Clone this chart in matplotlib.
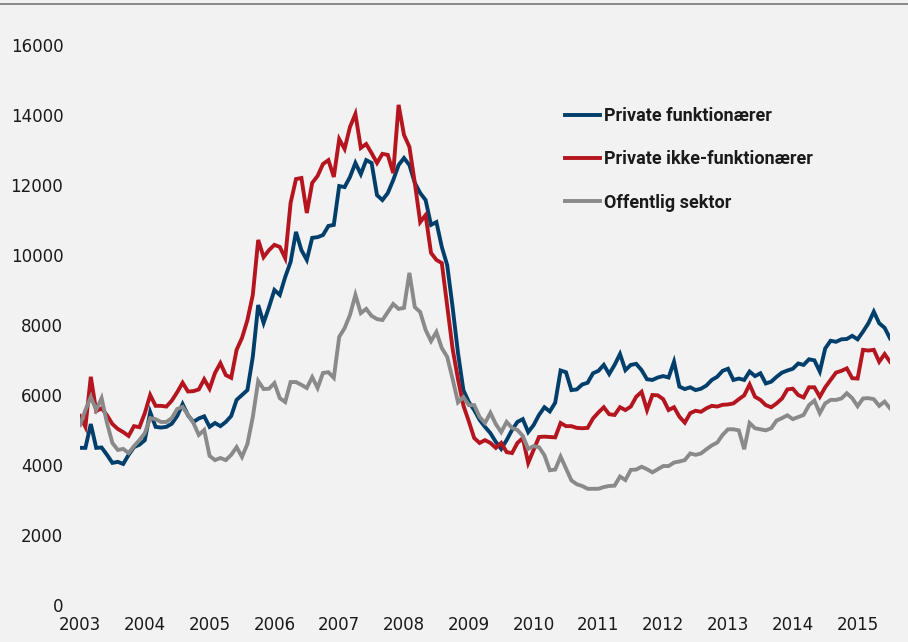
import numpy as np
import matplotlib
matplotlib.use('Agg')
import matplotlib.pyplot as plt
from matplotlib.lines import Line2D

# monthly values, Jan 2003 - Jul 2015
years = list(range(2003, 2016))
yTicks = list(range(0, 16001, 2000))
seriesNames = ['Private funktionærer', 'Private ikke-funktionærer', 'Offentlig sektor']

privateFunk = [
    4490, 4490, 5170, 4490, 4500, 4290, 4060, 4090, 4030, 4290, 4510, 4580,
    4710, 5510, 5090, 5070, 5090, 5180, 5400, 5740, 5420, 5230, 5330, 5390,
    5090, 5200, 5110, 5230, 5400, 5860, 6000, 6140, 7090, 8570, 8060, 8510,
    9000, 8860, 9370, 9800, 10660, 10140, 9860, 10490, 10510, 10570, 10830, 10860,
    11970, 11940, 12230, 12630, 12310, 12710, 12630, 11710, 11570, 11770, 12140, 12570,
    12770, 12570, 12060, 11770, 11570, 10860, 10940, 10230, 9710, 8510, 7200, 6140,
    5800, 5570, 5290, 5090, 4910, 4660, 4460, 4710, 5000, 5230, 5310, 4940,
    5140, 5430, 5650, 5530, 5780, 6700, 6650, 6140, 6160, 6300, 6350, 6620,
    6690, 6860, 6600, 6860, 7170, 6710, 6860, 6890, 6710, 6450, 6430, 6500,
    6540, 6500, 6950, 6240, 6170, 6220, 6140, 6180, 6270, 6430, 6520, 6690,
    6750, 6430, 6470, 6430, 6670, 6540, 6620, 6330, 6380, 6520, 6640, 6700,
    6750, 6900, 6860, 7020, 6990, 6670, 7330, 7550, 7520, 7590, 7600, 7690,
    7590, 7810, 8050, 8380, 8050, 7920, 7620,
]

privateIkke = [
    5400, 5090, 6520, 5540, 5620, 5420, 5170, 5030, 4940, 4830, 5110, 5080,
    5480, 6000, 5690, 5690, 5670, 5840, 6080, 6350, 6100, 6110, 6160, 6450,
    6180, 6630, 6910, 6570, 6490, 7290, 7630, 8140, 8860, 10430, 9940, 10140,
    10290, 10230, 9910, 11490, 12170, 12200, 11200, 12060, 12260, 12600, 12710, 12230,
    13310, 13030, 13660, 14030, 13060, 13170, 12910, 12630, 12890, 12860, 12340, 14290,
    13430, 13090, 12060, 10940, 11140, 10060, 9860, 9770, 8550, 7320, 6450, 5700,
    5250, 4770, 4630, 4710, 4630, 4490, 4630, 4370, 4340, 4630, 4770, 4060,
    4430, 4800, 4810, 4800, 4790, 5200, 5110, 5110, 5060, 5050, 5060, 5330,
    5500, 5650, 5450, 5430, 5650, 5570, 5670, 5950, 6090, 5570, 6000, 5990,
    5880, 5570, 5650, 5380, 5210, 5480, 5550, 5520, 5620, 5690, 5670, 5720,
    5730, 5760, 5880, 5990, 6300, 5950, 5860, 5710, 5650, 5760, 5900, 6160,
    6180, 6000, 5930, 6220, 6220, 5950, 6220, 6430, 6640, 6690, 6760, 6480,
    6470, 7290, 7270, 7290, 6950, 7170, 6950,
]

offentlig = [
    5140, 5570, 5940, 5570, 5910, 5200, 4630, 4430, 4460, 4340, 4540, 4710,
    4910, 5340, 5310, 5230, 5230, 5340, 5600, 5660, 5430, 5200, 4860, 5000,
    4260, 4140, 4200, 4140, 4290, 4510, 4230, 4600, 5370, 6400, 6170, 6180,
    6340, 5910, 5800, 6370, 6370, 6290, 6200, 6510, 6200, 6630, 6650, 6490,
    7660, 7910, 8290, 8860, 8340, 8460, 8260, 8170, 8140, 8370, 8600, 8460,
    8490, 9490, 8510, 8370, 7860, 7540, 7800, 7340, 7090, 6460, 5790, 5940,
    5710, 5710, 5370, 5200, 5490, 5170, 4940, 5230, 5060, 5000, 4830, 4460,
    4540, 4510, 4280, 3850, 3870, 4240, 3900, 3560, 3450, 3400, 3320, 3320,
    3320, 3370, 3400, 3410, 3670, 3570, 3860, 3870, 3950, 3880, 3790, 3880,
    3970, 3970, 4070, 4100, 4140, 4330, 4290, 4330, 4450, 4560, 4640, 4860,
    5020, 5020, 4990, 4450, 5200, 5050, 5020, 4990, 5050, 5270, 5340, 5420,
    5310, 5370, 5430, 5710, 5840, 5480, 5760, 5860, 5860, 5900, 6050, 5910,
    5680, 5900, 5910, 5880, 5690, 5810, 5620,
]

colors = ['#003f6b', '#b5151f', '#8a8a8a']


def plotChart():
    months = np.arange(len(privateFunk))
    x = 2003 + months / 12

    fig = plt.figure(figsize=(9.08, 6.42), dpi=100, facecolor='#f2f2f2')
    ax = fig.add_axes([80 / 908, 37 / 642, 810 / 908, 560 / 642])
    ax.set_facecolor('#f2f2f2')

    for vals, name, col in zip([privateFunk, privateIkke, offentlig], seriesNames, colors):
        ax.plot(x, vals, color=col, lw=2.8, label=name, solid_joinstyle='miter')

    ax.set_xlim(2003, 2003 + (len(privateFunk) - 1) / 12)
    ax.set_ylim(0, 16000)
    ax.set_xticks(years)
    ax.set_xticklabels([str(y) for y in years])
    ax.set_yticks(yTicks)
    ax.set_yticklabels([str(v) for v in yTicks])
    ax.tick_params(axis='both', length=0, labelsize=12, colors='#1a1a1a')
    ax.tick_params(axis='x', pad=8)
    ax.tick_params(axis='y', pad=12)
    for s in ax.spines.values():
        s.set_visible(False)

    leg = ax.legend(loc='upper left', bbox_to_anchor=(565 / 908, 1 - 107 / 642),
                    bbox_transform=fig.transFigure, frameon=False, borderpad=0,
                    borderaxespad=0, handlelength=1.95, handletextpad=0.2,
                    labelspacing=1.4, prop={'family': 'Roboto', 'weight': 'bold', 'size': 13})
    for t in leg.get_texts():
        t.set_color('#1a1a1a')

    # thin rule along the top
    fig.add_artist(Line2D([0, 1], [1 - 4 / 642, 1 - 4 / 642], transform=fig.transFigure,
                          color='#808080', lw=1.3))

    fig.savefig('out.png', dpi=100, facecolor=fig.get_facecolor())
    print('Plot created and saved')


def main():
    plotChart()


if __name__ == '__main__':
    main()
